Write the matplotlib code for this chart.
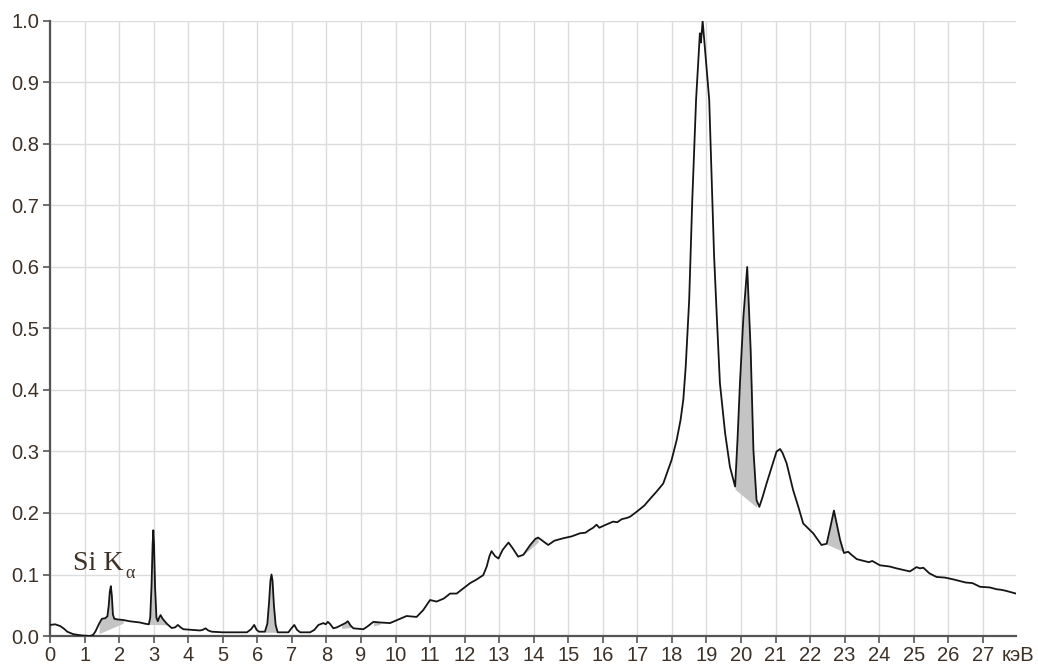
import numpy as np
import matplotlib
matplotlib.use("Agg")
import matplotlib.pyplot as plt

# spectrum: energy (keV) and relative intensity
energy = [
    0.00, 0.15, 0.30, 0.40, 0.50, 0.67, 0.90, 1.16, 1.25, 1.32,
    1.42, 1.50, 1.60, 1.66, 1.70, 1.73, 1.76, 1.79, 1.82, 1.86,
    1.95, 2.12, 2.30, 2.45, 2.60, 2.75, 2.86, 2.90, 2.94, 2.97,
    2.99, 3.01, 3.04, 3.08, 3.12, 3.16, 3.20, 3.26, 3.38, 3.52,
    3.62, 3.70, 3.78, 3.86, 4.10, 4.34, 4.42, 4.50, 4.58, 4.68,
    5.00, 5.40, 5.70, 5.82, 5.91, 5.98, 6.05, 6.22, 6.29, 6.34,
    6.38, 6.41, 6.44, 6.48, 6.53, 6.59, 6.90, 6.98, 7.07, 7.15,
    7.24, 7.53, 7.65, 7.77, 7.91, 7.98, 8.04, 8.10, 8.20, 8.30,
    8.44, 8.55, 8.62, 8.70, 8.78, 9.07, 9.20, 9.36, 9.55, 9.84,
    10.05, 10.32, 10.61, 10.80, 11.00, 11.19, 11.40, 11.58, 11.77, 12.00,
    12.16, 12.35, 12.54, 12.64, 12.72, 12.78, 12.88, 12.98, 13.10, 13.27,
    13.40, 13.55, 13.70, 13.90, 14.05, 14.13, 14.25, 14.42, 14.60, 14.86,
    15.10, 15.34, 15.50, 15.60, 15.72, 15.82, 15.90, 16.05, 16.30, 16.42,
    16.55, 16.70, 16.79, 16.98, 17.20, 17.40, 17.56, 17.75, 17.99, 18.14,
    18.25, 18.33, 18.40, 18.45, 18.50, 18.59, 18.70, 18.81, 18.84, 18.89,
    18.95, 19.08, 19.17, 19.22, 19.30, 19.39, 19.54, 19.68, 19.83, 19.90,
    19.97, 20.07, 20.18, 20.28, 20.36, 20.45, 20.53, 20.62, 20.74, 20.89,
    21.03, 21.13, 21.20, 21.32, 21.51, 21.66, 21.80, 22.09, 22.33, 22.48,
    22.58, 22.69, 22.78, 22.87, 22.98, 23.10, 23.20, 23.35, 23.70, 23.80,
    24.02, 24.30, 24.50, 24.89, 25.08, 25.18, 25.28, 25.45, 25.66, 25.90,
    26.15, 26.50, 26.70, 26.92, 27.20, 27.40, 27.55, 27.70, 27.96,
]
intensity = [
    0.018, 0.019, 0.016, 0.012, 0.007, 0.003, 0.001, 0.000, 0.002, 0.008,
    0.020, 0.028, 0.029, 0.032, 0.050, 0.072, 0.081, 0.065, 0.035, 0.028,
    0.027, 0.026, 0.024, 0.023, 0.022, 0.020, 0.019, 0.030, 0.085, 0.150,
    0.172, 0.150, 0.080, 0.030, 0.024, 0.030, 0.034, 0.028, 0.020, 0.013,
    0.014, 0.018, 0.014, 0.011, 0.010, 0.009, 0.010, 0.0125, 0.009, 0.007,
    0.006, 0.006, 0.006, 0.011, 0.018, 0.010, 0.007, 0.007, 0.020, 0.055,
    0.090, 0.100, 0.090, 0.050, 0.018, 0.006, 0.006, 0.012, 0.018, 0.010,
    0.006, 0.006, 0.010, 0.018, 0.021, 0.019, 0.023, 0.020, 0.0125, 0.014,
    0.018, 0.021, 0.024, 0.017, 0.0125, 0.011, 0.016, 0.023, 0.022, 0.021,
    0.026, 0.0325, 0.031, 0.042, 0.0585, 0.056, 0.061, 0.069, 0.069, 0.079,
    0.086, 0.092, 0.099, 0.113, 0.130, 0.138, 0.130, 0.126, 0.140, 0.152,
    0.142, 0.129, 0.132, 0.148, 0.158, 0.160, 0.155, 0.148, 0.155, 0.159,
    0.162, 0.167, 0.168, 0.172, 0.176, 0.181, 0.176, 0.180, 0.186, 0.185,
    0.190, 0.192, 0.194, 0.202, 0.212, 0.225, 0.235, 0.248, 0.286, 0.319,
    0.351, 0.384, 0.438, 0.492, 0.546, 0.709, 0.872, 0.980, 0.965, 1.000,
    0.960, 0.872, 0.709, 0.620, 0.519, 0.411, 0.330, 0.275, 0.243, 0.320,
    0.411, 0.519, 0.600, 0.465, 0.302, 0.221, 0.210, 0.225, 0.248, 0.275,
    0.300, 0.304, 0.298, 0.281, 0.237, 0.210, 0.183, 0.167, 0.148, 0.150,
    0.175, 0.204, 0.180, 0.156, 0.135, 0.137, 0.132, 0.125, 0.120, 0.122,
    0.115, 0.113, 0.110, 0.105, 0.112, 0.110, 0.111, 0.102, 0.096, 0.095,
    0.092, 0.087, 0.086, 0.080, 0.079, 0.076, 0.075, 0.073, 0.069,
]

# shaded peak areas: start, end, baseline at start, baseline at end
peak_start = [1.38, 2.86, 6.22, 8.40, 9.25, 13.62, 19.80, 22.45]
peak_end = [2.25, 3.45, 6.59, 8.72, 9.65, 14.20, 20.50, 23.05]
base_start = [0.003, 0.019, 0.006, 0.012, 0.015, 0.128, 0.240, 0.150]
base_end = [0.024, 0.018, 0.006, 0.014, 0.020, 0.156, 0.207, 0.135]

x_ticks = list(range(0, 28))
y_ticks = [0.0, 0.1, 0.2, 0.3, 0.4, 0.5, 0.6, 0.7, 0.8, 0.9, 1.0]

text_color = "#3d3127"
axis_color = "#555555"

plt.rcParams["font.family"] = ["Liberation Sans", "DejaVu Sans"]

fig = plt.figure(figsize=(10.38, 6.68), dpi=100)
ax = fig.add_axes([0.0482, 0.0479, 0.9306, 0.9207])

E = np.array(energy)
I = np.array(intensity)

for a, b, ba, bb in zip(peak_start, peak_end, base_start, base_end):
    m = (E >= a) & (E <= b)
    xs = E[m]
    base = ba + (bb - ba) * (xs - a) / (b - a)
    ax.fill_between(xs, base, I[m], color="#c4c4c4", linewidth=0, zorder=2)

ax.plot(E, I, color="#151515", linewidth=1.3, zorder=3)

ax.set_xlim(0, 27.96)
ax.set_ylim(0, 1.0)
ax.set_xticks(x_ticks)
ax.set_yticks(y_ticks)
ax.set_yticklabels(["%.1f" % v for v in y_ticks])
ax.grid(True, color="#dcdcdc", linewidth=1.0, zorder=0)
ax.set_axisbelow(True)

for s in ["top", "right"]:
    ax.spines[s].set_visible(False)
for s in ["left", "bottom"]:
    ax.spines[s].set_color(axis_color)
    ax.spines[s].set_linewidth(1.6)
ax.tick_params(length=5, width=1.2, color=axis_color, labelsize=14.5,
               labelcolor=text_color, pad=2.5)

ax.annotate("кэВ", xy=(27.55, 0), xycoords=("data", "axes fraction"),
            xytext=(0, -7.5), textcoords="offset points", ha="left", va="top",
            fontsize=14.5, color=text_color, annotation_clip=False)

t = ax.text(0.67, 0.108, "Si K", fontsize=20, family="Liberation Serif",
            color=text_color, va="baseline", zorder=4)
ax.annotate("α", xy=(1, 0), xycoords=t, xytext=(1, -2),
            textcoords="offset points", ha="left", va="baseline",
            fontsize=13, family="Liberation Serif", color=text_color)

fig.savefig("out.png", dpi=100)
